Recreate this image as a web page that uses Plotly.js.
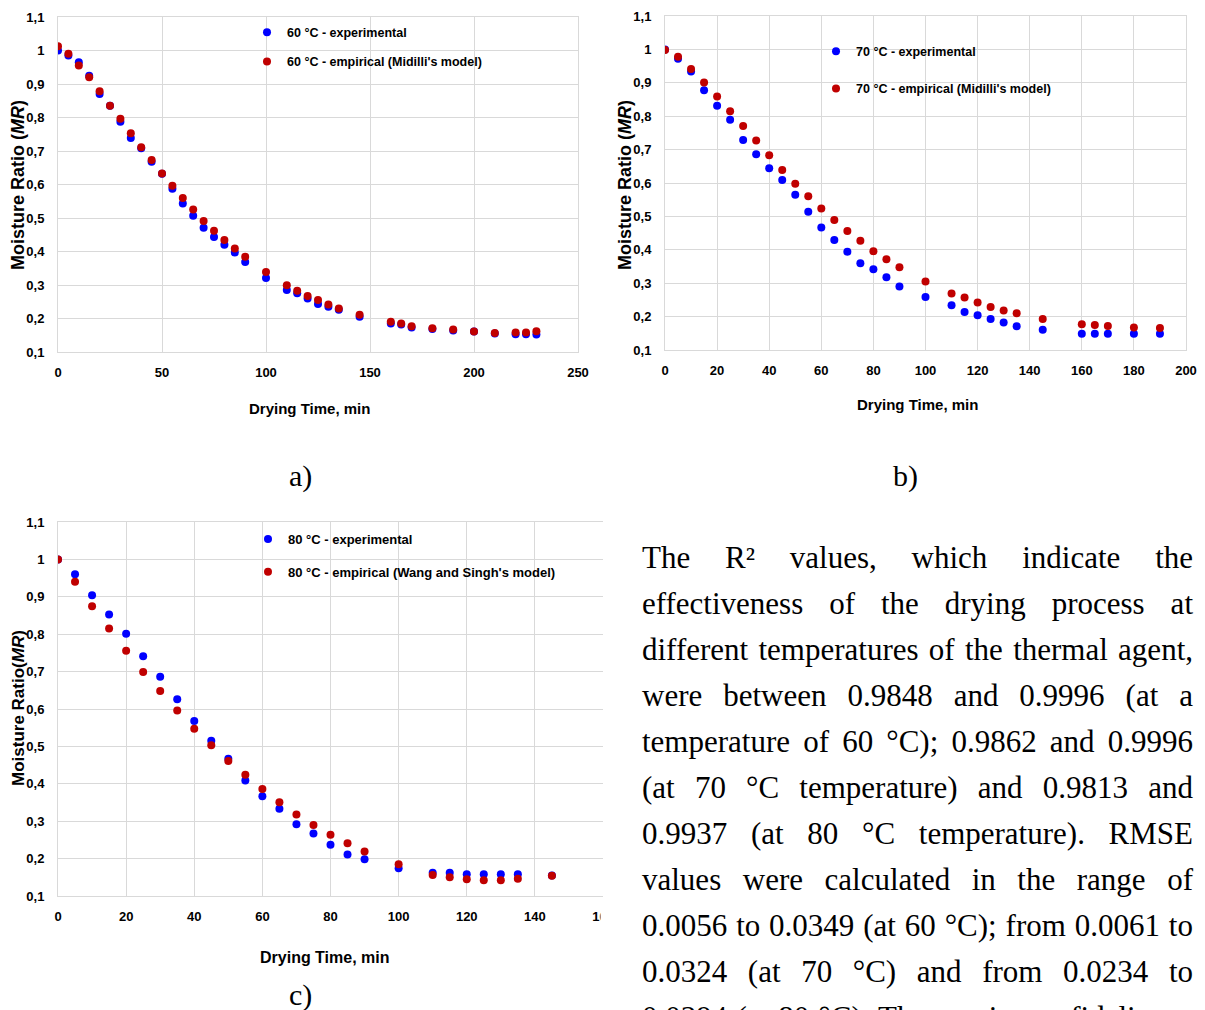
<!DOCTYPE html>
<html>
<head>
<meta charset="utf-8">
<script src="https://cdn.plot.ly/plotly-3.0.1.min.js"></script>
<style>
  html, body { margin:0; padding:0; background:#fff; width:1205px; height:1010px; overflow:hidden; }
  #plot { position:absolute; left:0; top:0; width:1205px; height:1010px; }
  #para { position:absolute; left:642px; top:535px; width:551px; font-family:'Liberation Serif','Times New Roman',serif; font-size:31px; line-height:46px; color:#000; }
  #para div { text-align:justify; text-align-last:justify; }
</style>
</head>
<body>
<div id="plot"></div>
<div id="para">
  <div>The R² values, which indicate the</div>
  <div>effectiveness of the drying process at</div>
  <div>different temperatures of the thermal agent,</div>
  <div>were between 0.9848 and 0.9996 (at a</div>
  <div>temperature of 60 °C); 0.9862 and 0.9996</div>
  <div>(at 70 °C temperature) and 0.9813 and</div>
  <div>0.9937 (at 80 °C temperature). RMSE</div>
  <div>values were calculated in the range of</div>
  <div>0.0056 to 0.0349 (at 60 °C); from 0.0061 to</div>
  <div>0.0324 (at 70 °C) and from 0.0234 to</div>
  <div>0.0394 (at 80 °C). The maximum fidelity to</div>
</div>
<script>
// ---- data ----
const time60 = [0,5,10,15,20,25,30,35,40,45,50,55,60,65,70,75,80,85,90,100,110,115,120,125,130,135,145,160,165,170,180,190,200,210,220,225,230];
const exp60 = [1.0,0.985,0.965,0.925,0.87,0.835,0.787,0.739,0.708,0.668,0.632,0.587,0.543,0.507,0.471,0.443,0.42,0.397,0.369,0.321,0.285,0.275,0.26,0.243,0.235,0.226,0.205,0.185,0.182,0.173,0.169,0.164,0.161,0.155,0.153,0.153,0.152];
const emp60 = [1.013,0.99,0.955,0.92,0.878,0.835,0.796,0.753,0.711,0.673,0.633,0.596,0.56,0.525,0.491,0.462,0.434,0.409,0.384,0.339,0.299,0.283,0.267,0.255,0.242,0.23,0.211,0.19,0.185,0.177,0.171,0.167,0.161,0.157,0.158,0.158,0.162];

const time70 = [0,5,10,15,20,25,30,35,40,45,50,55,60,65,70,75,80,85,90,100,110,115,120,125,130,135,145,160,165,170,180,190];
const exp70 = [1.0,0.972,0.934,0.878,0.831,0.789,0.729,0.686,0.644,0.609,0.565,0.514,0.467,0.429,0.394,0.36,0.342,0.318,0.29,0.259,0.234,0.214,0.204,0.193,0.182,0.171,0.161,0.149,0.149,0.149,0.149,0.149];
const emp70 = [0.998,0.978,0.941,0.901,0.859,0.815,0.771,0.727,0.683,0.639,0.598,0.56,0.524,0.489,0.456,0.427,0.396,0.372,0.348,0.305,0.269,0.257,0.242,0.229,0.218,0.21,0.193,0.177,0.175,0.172,0.167,0.166];

const time80 = [0,5,10,15,20,25,30,35,40,45,50,55,60,65,70,75,80,85,90,100,110,115,120,125,130,135,145];
const exp80 = [1.0,0.96,0.904,0.853,0.801,0.741,0.686,0.626,0.568,0.515,0.467,0.409,0.367,0.333,0.292,0.267,0.237,0.211,0.198,0.174,0.162,0.162,0.158,0.158,0.158,0.158,0.155];
const emp80 = [1.0,0.94,0.875,0.815,0.756,0.699,0.648,0.596,0.547,0.503,0.461,0.424,0.386,0.351,0.318,0.29,0.264,0.241,0.219,0.185,0.156,0.15,0.145,0.142,0.142,0.146,0.154];

const names60 = ["60 °C - experimental", "60 °C - empirical (Midilli's model)"];
const names70 = ["70 °C - experimental", "70 °C - empirical (Midilli's model)"];
const names80 = ["80 °C - experimental", "80 °C - empirical (Wang and Singh's model)"];

// ---- styling ----
const W = 1205, H = 1010;
const px = x => x / W;
const py = y => 1 - y / H;
const SANS = "'Liberation Sans', Arial, sans-serif";
const SERIF = "'Liberation Serif', 'Times New Roman', serif";
const BLUE = '#0000ff', RED = '#c00000';
const MS = 8;

function tr(x, y, name, color, xa, ya, leg, grp) {
  return { x: x, y: y, name: name, type: 'scatter', mode: 'markers',
    marker: { color: color, size: MS }, xaxis: xa, yaxis: ya, legend: leg, legendgroup: grp };
}

const traces = [
  tr(time60, exp60, names60[0], BLUE, 'x', 'y', 'legend', 'a1'),
  tr(time60, emp60, names60[1], RED, 'x', 'y', 'legend', 'a2'),
  tr(time70, exp70, names70[0], BLUE, 'x2', 'y2', 'legend2', 'b1'),
  tr(time70, emp70, names70[1], RED, 'x2', 'y2', 'legend2', 'b2'),
  tr(time80, exp80, names80[0], BLUE, 'x3', 'y3', 'legend3', 'c1'),
  tr(time80, emp80, names80[1], RED, 'x3', 'y3', 'legend3', 'c2')
];

const tickfont = { family: SANS, size: 13, weight: 'bold', color: '#000' };
function xax(dom, anchor, range, dtick) {
  return { domain: dom, anchor: anchor, range: range, dtick: dtick, tick0: 0,
    showgrid: true, gridcolor: '#d9d9d9', gridwidth: 1, zeroline: false,
    showline: true, mirror: true, linecolor: '#d9d9d9', linewidth: 1,
    ticks: '', ticklabelstandoff: 8, tickfont: tickfont, fixedrange: true };
}
function yax(dom, anchor, mirror) {
  return { domain: dom, anchor: anchor, range: [0.1, 1.1], dtick: 0.1, tick0: 0.1,
    showgrid: true, gridcolor: '#d9d9d9', gridwidth: 1, zeroline: false,
    showline: true, mirror: mirror, linecolor: '#d9d9d9', linewidth: 1,
    ticks: '', ticklabelstandoff: 10, tickfont: tickfont, fixedrange: true };
}
function leg(x, y, size, gap) {
  return { x: px(x), y: py(y), xanchor: 'left', yanchor: 'top', bgcolor: 'rgba(0,0,0,0)',
    borderwidth: 0, traceorder: 'grouped', tracegroupgap: gap,
    font: { family: SANS, size: size, weight: 'bold', color: '#000' } };
}
function ann(x, y, text, font, angle) {
  return { xref: 'paper', yref: 'paper', x: px(x), y: py(y), text: text, showarrow: false,
    xanchor: 'center', yanchor: 'middle', textangle: angle || 0, font: font };
}

const xTitleFont = { family: SANS, size: 15, weight: 'bold', color: '#000' };
const yTitleFont = { family: SANS, size: 18, weight: 'bold', color: '#000' };
const capFont = { family: SERIF, size: 30, color: '#000' };

const layout = {
  width: W, height: H,
  margin: { l: 0, r: 0, t: 0, b: 0 },
  paper_bgcolor: '#fff', plot_bgcolor: '#fff',
  separators: ',.',
  xaxis: xax([px(58), px(578)], 'y', [0, 250], 50),
  yaxis: yax([py(352), py(17)], 'x', true),
  xaxis2: xax([px(665), px(1186)], 'y2', [0, 200], 20),
  yaxis2: yax([py(350), py(16)], 'x2', true),
  xaxis3: xax([px(58), px(603)], 'y3', [0, 160], 20),
  yaxis3: yax([py(896), py(522)], 'x3', false),
  legend: leg(247, 17.5, 12.5, 10),
  legend2: leg(816, 36.5, 12.5, 18),
  legend3: leg(248, 524, 13, 13),
  annotations: [
    ann(310, 408, 'Drying Time, min', xTitleFont),
    ann(917, 404, 'Drying Time, min', xTitleFont),
    ann(325, 957, 'Drying Time, min', Object.assign({}, xTitleFont, { size: 16 })),
    ann(18, 185, 'Moisture Ratio (<i>MR</i>)', yTitleFont, -90),
    ann(625, 185, 'Moisture Ratio (<i>MR</i>)', yTitleFont, -90),
    ann(18, 708, 'Moisture Ratio(<i>MR</i>)', Object.assign({}, yTitleFont, { size: 17 }), -90),
    ann(300, 476, 'a)', capFont),
    ann(905, 476, 'b)', capFont),
    ann(300, 995, 'c)', capFont)
  ],
  shapes: [
    { type: 'rect', xref: 'paper', yref: 'paper', layer: 'above',
      x0: px(600.5), x1: px(640), y0: py(935), y1: py(900),
      fillcolor: '#fff', line: { width: 0 } }
  ]
};

Plotly.newPlot('plot', traces, layout, { displayModeBar: false, staticPlot: true });
</script>
</body>
</html>
